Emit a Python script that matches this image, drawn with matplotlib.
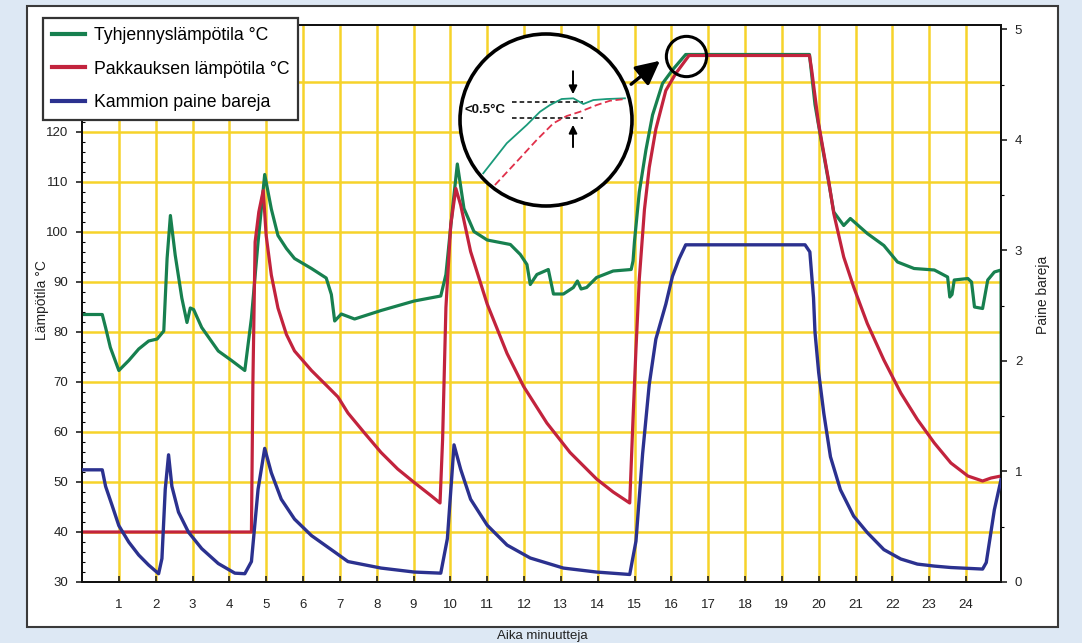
import matplotlib
matplotlib.use("Agg")
import matplotlib.pyplot as plt
from matplotlib.patches import Rectangle, Circle
from matplotlib.ticker import MultipleLocator

plt.rcParams['font.family'] = ['Liberation Sans', 'DejaVu Sans']

# ---------------- data ----------------
# Tyhjennyslämpötila (drain temperature, °C)
t_green = [0, 0.55, 0.64, 0.77, 1.0, 1.27, 1.54, 1.81, 2.04, 2.22, 2.31, 2.40, 2.53, 2.71, 2.85,
           2.94, 3.03, 3.25, 3.70, 4.06, 4.42, 4.60, 4.78, 4.96, 5.14, 5.32, 5.55, 5.77, 6.23,
           6.63, 6.77, 6.86, 7.04, 7.40, 8.12, 9.02, 9.74, 9.88, 10.06, 10.19, 10.37, 10.64,
           11.0, 11.63, 11.9, 12.08, 12.17, 12.35, 12.66, 12.8, 13.07, 13.34, 13.45, 13.55,
           13.70, 13.97, 14.42, 14.91, 14.96, 15.0, 15.13, 15.31, 15.49, 15.76, 16.03, 16.39,
           19.75, 19.9, 20.1, 20.27, 20.41, 20.68, 20.86, 21.32, 21.77, 22.14, 22.59, 23.14,
           23.5, 23.56, 23.62, 23.68, 24.05, 24.15, 24.23, 24.45, 24.59, 24.77, 24.95, 24.97]
T_green = [83.5, 83.5, 80.9, 76.9, 72.3, 74.3, 76.6, 78.2, 78.6, 80.2, 94.7, 103.3, 95.4, 86.8,
           81.9, 84.8, 84.5, 80.9, 76.2, 74.3, 72.3, 82.8, 98.0, 111.5, 104.6, 99.3, 96.7, 94.7,
           92.7, 90.8, 87.5, 82.2, 83.6, 82.6, 84.3, 86.2, 87.2, 91.5, 104.7, 113.6, 104.7,
           100.1, 98.4, 97.5, 95.5, 93.5, 89.5, 91.5, 92.5, 87.6, 87.6, 88.9, 90.2, 88.6,
           88.9, 90.9, 92.2, 92.5, 94.2, 98.2, 108.0, 116.4, 123.4, 129.7, 132.4, 135.5,
           135.5, 125.5, 117.0, 110.0, 104.0, 101.3, 102.7, 99.7, 97.3, 94.0, 92.7, 92.4,
           91.0, 87.0, 87.5, 90.4, 90.7, 90.0, 85.0, 84.7, 90.4, 92.0, 92.4, 28.0]

# Pakkauksen lämpötila (pack temperature, °C)
t_red = [0, 4.60, 4.64, 4.70, 4.80, 4.92, 5.0, 5.14, 5.32, 5.55, 5.77, 6.23, 6.68, 6.95, 7.22,
         7.67, 8.12, 8.57, 9.02, 9.47, 9.72, 9.79, 9.88, 10.01, 10.15, 10.28, 10.55, 11.0,
         11.54, 11.99, 12.62, 13.25, 13.97, 14.42, 14.87, 14.96, 15.04, 15.13, 15.27, 15.4,
         15.58, 15.85, 16.12, 16.48, 19.75, 19.81, 19.99, 20.27, 20.41, 20.68, 20.95, 21.32,
         21.77, 22.23, 22.68, 23.14, 23.59, 24.05, 24.45, 24.68, 24.95]
T_red = [40, 40, 70, 98, 104, 108.3, 99.3, 91.4, 84.8, 79.5, 76.2, 72.3, 69.0, 67.0, 63.8,
         59.8, 55.9, 52.6, 49.9, 47.3, 45.8, 58.5, 84.9, 101.4, 108.7, 105.4, 96.1, 85.6,
         75.7, 69.1, 61.8, 55.9, 50.6, 48.0, 45.8, 62.7, 76.6, 90.6, 104.5, 112.9, 120.6,
         128.3, 131.7, 135.3, 135.3, 132.4, 122.0, 110.3, 103.7, 95.0, 89.0, 81.7, 74.4,
         67.8, 62.5, 57.8, 53.8, 51.2, 50.2, 50.8, 51.2]

# Kammion paine (chamber pressure, bar)
t_blue = [0, 0.55, 0.64, 0.82, 1.0, 1.27, 1.54, 1.81, 2.08, 2.17, 2.26, 2.35, 2.44, 2.62, 2.89,
          3.25, 3.70, 4.15, 4.42, 4.60, 4.78, 4.96, 5.14, 5.41, 5.77, 6.23, 6.86, 7.22, 8.12,
          9.02, 9.74, 9.92, 10.1, 10.28, 10.55, 11.0, 11.54, 12.17, 13.07, 13.97, 14.87, 15.04,
          15.22, 15.4, 15.58, 15.85, 16.03, 16.21, 16.39, 19.63, 19.76, 19.86, 19.9, 20.0,
          20.14, 20.32, 20.59, 20.95, 21.32, 21.77, 22.23, 22.68, 23.14, 23.59, 24.45, 24.55,
          24.77, 24.95]
P_blue = [1.015, 1.015, 0.866, 0.690, 0.510, 0.361, 0.244, 0.153, 0.075, 0.212, 0.839, 1.151,
          0.866, 0.632, 0.451, 0.302, 0.167, 0.080, 0.075, 0.185, 0.839, 1.209, 0.988, 0.749,
          0.569, 0.420, 0.271, 0.185, 0.126, 0.090, 0.080, 0.393, 1.241, 1.020, 0.749, 0.514,
          0.334, 0.217, 0.126, 0.090, 0.068, 0.370, 1.160, 1.787, 2.198, 2.514, 2.766, 2.924,
          3.051, 3.051, 2.987, 2.572, 2.261, 1.895, 1.525, 1.133, 0.835, 0.596, 0.447, 0.293,
          0.208, 0.162, 0.144, 0.131, 0.117, 0.176, 0.654, 0.925]

x_ticks = list(range(1, 25))
temp_ticks = [30, 40, 50, 60, 70, 80, 90, 100, 110, 120]
temp_grid = [40, 50, 60, 70, 80, 90, 100, 110, 120, 130]
pres_ticks = [0, 1, 2, 3, 4, 5]

# inset (zoomed view) curves, in inset-local units
ins_g_u = [0.135, 0.272, 0.388, 0.465, 0.523, 0.591, 0.659, 0.717, 0.775, 0.853, 0.959]
ins_g_v = [0.190, 0.365, 0.471, 0.548, 0.587, 0.622, 0.626, 0.593, 0.616, 0.622, 0.626]
ins_r_u = [0.203, 0.330, 0.446, 0.543, 0.620, 0.698, 0.795, 0.872, 0.959]
ins_r_v = [0.122, 0.258, 0.384, 0.481, 0.523, 0.548, 0.587, 0.612, 0.622]

labels = ["Tyhjennyslämpötila °C", "Pakkauksen lämpötila °C", "Kammion paine bareja"]
GREEN = "#17804f"
RED = "#c2233d"
BLUE = "#2b318f"
YELLOW = "#f6d32a"

# ---------------- figure ----------------
W, H = 1082, 643
fig = plt.figure(figsize=(W / 100, H / 100), dpi=100)
fig.patch.set_facecolor("#dde8f4")

panel = Rectangle((27 / W, 1 - 627 / H), 1031 / W, 621 / H, transform=fig.transFigure,
                  facecolor="white", edgecolor="#3a3a3a", linewidth=1.5, zorder=-5)
fig.add_artist(panel)

ax = fig.add_axes([82 / W, 1 - 582 / H, 919 / W, 557 / H])
ax.set_xlim(0, 24.95)
ax.set_ylim(30, 141.4)
for v in temp_grid:
    ax.axhline(v, color=YELLOW, lw=1.8, zorder=1)
for v in x_ticks:
    ax.axvline(v, color=YELLOW, lw=1.8, zorder=1)

lg, = ax.plot(t_green, T_green, color=GREEN, lw=2.3, zorder=3, solid_joinstyle='round')
lr, = ax.plot(t_red, T_red, color=RED, lw=2.3, zorder=4, solid_joinstyle='round')

ax.set_xticks(x_ticks)
ax.set_xticklabels([str(v) for v in x_ticks])
ax.set_yticks(temp_ticks)
ax.yaxis.set_minor_locator(MultipleLocator(2))
ax.tick_params(axis='x', direction='in', length=4, width=1.2, pad=12, labelsize=9.5,
               colors='#222222')
ax.tick_params(axis='y', which='major', direction='out', length=4, width=1.2, pad=6,
               labelsize=9.5, colors='#222222')
ax.tick_params(axis='y', which='minor', direction='in', length=2, width=0.8)
for s in ax.spines.values():
    s.set_color('#111111')
    s.set_linewidth(1.4)

ax2 = ax.twinx()
ax2.set_ylim(0, 5.04)
lb, = ax2.plot(t_blue, P_blue, color=BLUE, lw=2.4, zorder=3, solid_joinstyle='round')
ax2.set_yticks(pres_ticks)
ax2.yaxis.set_minor_locator(MultipleLocator(0.5))
ax2.tick_params(axis='y', which='major', direction='out', length=4, width=1.2, pad=6,
                labelsize=9.5, colors='#222222')
ax2.tick_params(axis='y', which='minor', direction='out', length=2, width=0.8)
for s in ax2.spines.values():
    s.set_color('#111111')
    s.set_linewidth(1.4)

fig.text(42 / W, 1 - 300 / H, "Lämpötila °C", rotation=90, ha='center', va='center',
         fontsize=10, color='#222222')
fig.text(1043 / W, 1 - 295 / H, "Paine bareja", rotation=90, ha='center', va='center',
         fontsize=10, color='#222222')
fig.text(542 / W, 1 - 630 / H, "Aika minuutteja", ha='center', va='top', fontsize=9.5,
         color='#222222')

leg = fig.legend([lg, lr, lb], labels, loc='upper left',
                 bbox_to_anchor=(43 / W, 1 - 18 / H), bbox_transform=fig.transFigure,
                 fontsize=12.7, frameon=True, fancybox=False, framealpha=1,
                 handlelength=1.9, handletextpad=0.5, labelspacing=0.95, borderpad=0.5,
                 borderaxespad=0)
leg.get_frame().set_edgecolor('#333333')
leg.get_frame().set_linewidth(1.6)
for h in leg.get_lines():
    h.set_linewidth(3)

# small circle + arrow on the plateau
ax.plot([16.4], [135.2], marker='o', ms=29, mfc='none', mec='black', mew=2.2, zorder=6,
        clip_on=False)
ax.annotate("", xy=(15.75, 134.6), xytext=(14.85, 129.2),
            arrowprops=dict(arrowstyle='-|>', color='black', lw=2.4, mutation_scale=36),
            zorder=6)

# zoom inset
ins = fig.add_axes([460 / W, 1 - 206 / H, 172 / W, 172 / H])
ins.set_xlim(0, 1)
ins.set_ylim(0, 1)
ins.axis('off')
ins.set_zorder(10)
circ = Circle((0.5, 0.5), 0.5, transform=ins.transAxes, facecolor='white',
              edgecolor='black', lw=2.6, zorder=1, clip_on=False)
ins.add_patch(circ)
g_in, = ins.plot(ins_g_u, ins_g_v, color="#1a9a7a", lw=1.3, zorder=3)
r_in, = ins.plot(ins_r_u, ins_r_v, color="#e0304a", lw=1.3, ls=(0, (4, 2)), zorder=3)
g_in.set_clip_path(circ)
r_in.set_clip_path(circ)
ins.plot([0.30, 0.715], [0.606, 0.606], color='black', lw=1.1, ls=(0, (3, 2)), zorder=2)
ins.plot([0.30, 0.715], [0.510, 0.510], color='black', lw=1.1, ls=(0, (3, 2)), zorder=2)
ins.text(0.025, 0.558, "<0.5°C", ha='left', va='center', fontsize=9.5, fontweight='bold',
         color='#111111', zorder=4)
ins.annotate("", xy=(0.657, 0.634), xytext=(0.657, 0.80),
             arrowprops=dict(arrowstyle='-|>', color='black', lw=1.4, mutation_scale=12))
ins.annotate("", xy=(0.657, 0.488), xytext=(0.657, 0.326),
             arrowprops=dict(arrowstyle='-|>', color='black', lw=1.4, mutation_scale=12))

fig.savefig("out.png", dpi=100, facecolor=fig.get_facecolor())
